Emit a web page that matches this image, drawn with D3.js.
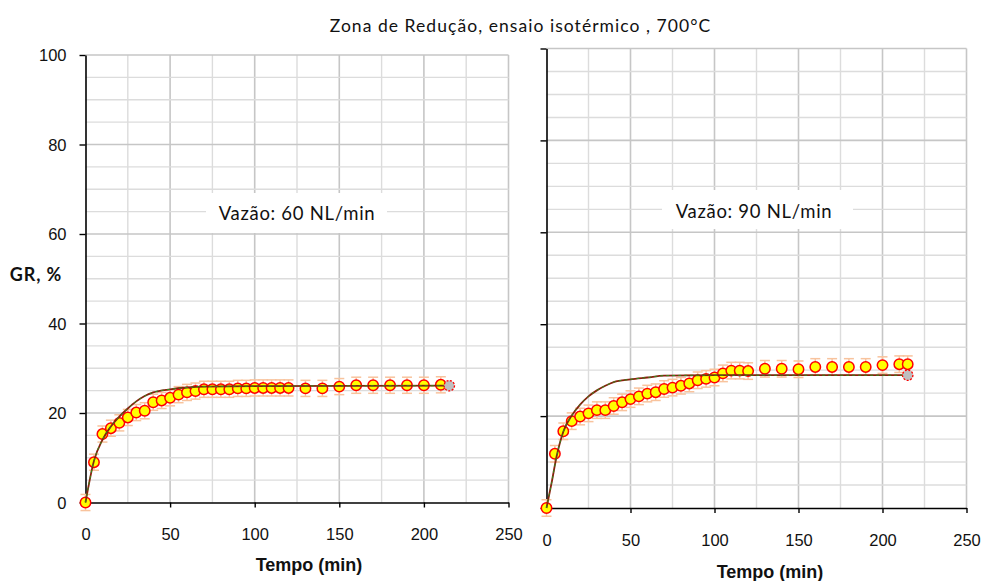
<!DOCTYPE html>
<html>
<head>
<meta charset="utf-8">
<script src="https://cdn.jsdelivr.net/npm/d3@7"></script>
<style>
  html, body { margin: 0; padding: 0; background: #fff; }
  svg { display: block; }
</style>
</head>
<body>
<svg id="chart" width="983" height="581"></svg>
<script>
// Reduction degree (GR, %) vs time, isothermal test at 700 °C
const titleText = "Zona de Redução, ensaio isotérmico , 700°C";
const yTitle = "GR, %";
const xTitle = "Tempo (min)";
const xTicks = [0, 50, 100, 150, 200, 250];
const yTicks = [0, 20, 40, 60, 80, 100];

// 60 NL/min — measured points
const label60 = "Vazão: 60 NL/min";
const time60 = [0, 5, 10, 15, 20, 25, 30, 35, 40, 45, 50, 55, 60, 65, 70, 75, 80, 85, 90, 95, 100, 105, 110, 115, 120,
                130, 140, 150, 160, 170, 180, 190, 200, 210];
const gr60   = [0, 9.0, 15.3, 16.6, 17.8, 19.0, 20.1, 20.5, 22.4, 22.8, 23.4, 24.1, 24.6, 24.9, 25.3, 25.3, 25.3, 25.3, 25.5, 25.5, 25.6, 25.6, 25.6, 25.6, 25.6,
                25.5, 25.5, 25.9, 26.2, 26.2, 26.2, 26.2, 26.2, 26.3];
// 60 NL/min — fitted curve
const fitTime60 = [0, 5, 10, 15, 20, 25, 30, 35, 40, 50, 60, 70, 100, 215];
const fitGr60   = [0, 9.3, 14.0, 17.0, 19.2, 21.0, 22.6, 23.8, 24.6, 25.3, 25.7, 25.9, 26.0, 26.1];
const endTime60 = [215];
const endGr60   = [26.1];

// 90 NL/min — measured points
const label90 = "Vazão: 90 NL/min";
const time90 = [0, 5, 10, 15, 20, 25, 30, 35, 40, 45, 50, 55, 60, 65, 70, 75, 80, 85, 90, 95, 100, 105, 110, 115, 120,
                130, 140, 150, 160, 170, 180, 190, 200, 210, 215];
const gr90   = [0, 11.8, 16.7, 18.9, 19.9, 20.6, 21.3, 21.3, 22.2, 23.0, 23.7, 24.3, 24.9, 25.2, 25.9, 26.2, 26.6, 27.1, 27.8, 28.1, 28.4, 29.3, 29.9, 29.9, 29.8,
                30.3, 30.3, 30.2, 30.7, 30.7, 30.7, 30.7, 31.1, 31.3, 31.3];
// 90 NL/min — fitted curve
const fitTime90 = [0, 3, 6, 10, 15, 20, 25, 30, 35, 40, 50, 60, 70, 100, 215];
const fitGr90   = [0, 5.4, 11.2, 16.6, 20.1, 22.5, 24.3, 25.6, 26.6, 27.4, 28.0, 28.4, 28.8, 28.9, 28.9];
const endTime90 = [215];
const endGr90   = [28.9];

// Standard deviation of the measured points
const errGr = 1.8;

const svg = d3.select("#chart");
const tickFont = "'Liberation Sans', Arial, sans-serif";
const textFont = "Lato, 'Open Sans', sans-serif";

svg.append("text")
  .attr("x", 520.5).attr("y", 32)
  .attr("text-anchor", "middle")
  .style("font-family", textFont).style("font-size", "17.5px").style("letter-spacing", "1.05px")
  .style("fill", "#111")
  .text(titleText);

svg.append("text")
  .attr("x", 36).attr("y", 281)
  .attr("text-anchor", "middle")
  .style("font-family", textFont).style("font-size", "18px").style("font-weight", "bold")
  .style("letter-spacing", "0.9px").style("fill", "#111")
  .text(yTitle);

function panel(cfg) {
  const x = d3.scaleLinear().domain([0, 250]).range(cfg.xr);
  const y = d3.scaleLinear().domain([0, 100]).range(cfg.yr);
  const g = svg.append("g");

  // grid: minor every 25 / 5, major every 50 / 20
  const gx = d3.range(25, 251, 25);
  const gy = d3.range(5, 101, 5);
  g.selectAll("line.gx").data(gx).join("line")
    .attr("x1", d => x(d)).attr("x2", d => x(d))
    .attr("y1", y(0)).attr("y2", y(100))
    .attr("stroke", d => d % 50 === 0 ? "#c6c6c6" : "#dcdcdc")
    .attr("stroke-width", d => d % 50 === 0 ? 1.6 : 1.4);
  g.selectAll("line.gy").data(gy).join("line")
    .attr("x1", x(0)).attr("x2", x(250))
    .attr("y1", d => y(d)).attr("y2", d => y(d))
    .attr("stroke", d => d % 20 === 0 ? "#c6c6c6" : "#dcdcdc")
    .attr("stroke-width", d => d % 20 === 0 ? 1.6 : 1.4);

  // label box
  g.append("rect")
    .attr("x", cfg.box[0]).attr("y", cfg.box[1])
    .attr("width", cfg.box[2]).attr("height", cfg.box[3])
    .attr("fill", "#fff");
  g.append("text")
    .attr("x", cfg.labelPos[0]).attr("y", cfg.labelPos[1])
    .attr("text-anchor", "middle")
    .style("font-family", textFont).style("font-size", "18.5px").style("letter-spacing", "0.7px")
    .style("fill", "#111")
    .text(cfg.label);

  // axes
  const xAxis = d3.axisBottom(x).tickValues(xTicks).tickSize(5).tickSizeOuter(0).tickFormat(d3.format("d"));
  const ax = g.append("g").attr("transform", `translate(0,${y(0)})`).call(xAxis);
  ax.select(".domain").attr("stroke", "#000").attr("stroke-width", 1.6);
  ax.selectAll(".tick line").attr("stroke", "#000").attr("stroke-width", 1.4);
  ax.selectAll(".tick text")
    .attr("y", cfg.xLabelDy).attr("dy", 0)
    .style("font-family", tickFont).style("font-size", "16.5px").style("fill", "#111");

  const yAxis = d3.axisLeft(y).tickValues(yTicks).tickSize(6).tickSizeOuter(0)
    .tickFormat(cfg.yLabels ? d3.format("d") : () => "");
  const ay = g.append("g").attr("transform", `translate(${x(0)},0)`).call(yAxis);
  ay.select(".domain").attr("stroke", "#000").attr("stroke-width", 1.6);
  ay.selectAll(".tick line").attr("stroke", "#000").attr("stroke-width", 1.4);
  ay.selectAll(".tick text")
    .attr("x", -19).attr("dy", "0.36em")
    .style("font-family", tickFont).style("font-size", "16.5px").style("fill", "#111");

  g.append("text")
    .attr("x", cfg.xTitlePos[0]).attr("y", cfg.xTitlePos[1])
    .attr("text-anchor", "middle")
    .style("font-family", tickFont).style("font-size", "18px").style("font-weight", "bold").style("fill", "#111")
    .text(xTitle);

  const pts = cfg.t.map((t, i) => ({ t, v: cfg.v[i] }));

  // error bars
  const eb = g.append("g").attr("stroke", "#f8c39d").attr("stroke-width", 1.5).attr("fill", "none");
  eb.selectAll("line.v").data(pts).join("line")
    .attr("x1", d => x(d.t)).attr("x2", d => x(d.t))
    .attr("y1", d => y(d.v - errGr)).attr("y2", d => y(d.v + errGr));
  eb.selectAll("line.lo").data(pts).join("line")
    .attr("x1", d => x(d.t) - 5).attr("x2", d => x(d.t) + 5)
    .attr("y1", d => y(d.v - errGr)).attr("y2", d => y(d.v - errGr));
  eb.selectAll("line.hi").data(pts).join("line")
    .attr("x1", d => x(d.t) - 5).attr("x2", d => x(d.t) + 5)
    .attr("y1", d => y(d.v + errGr)).attr("y2", d => y(d.v + errGr));

  // measured points
  g.selectAll("circle.m").data(pts).join("circle")
    .attr("cx", d => x(d.t)).attr("cy", d => y(d.v)).attr("r", 5.2)
    .attr("fill", "#ffff00").attr("stroke", "#ff0000").attr("stroke-width", 1.5);

  // fitted curve
  const fit = cfg.ft.map((t, i) => ({ t, v: cfg.fv[i] }));
  const line = d3.line().x(d => x(d.t)).y(d => y(d.v)).curve(d3.curveMonotoneX);
  g.append("path").datum(fit).attr("d", line)
    .attr("fill", "none").attr("stroke", "#8a1e0c").attr("stroke-width", 1.8);
  g.append("path").datum(fit).attr("d", line)
    .attr("fill", "none").attr("stroke", "#2f8f1f").attr("stroke-width", 1).attr("stroke-dasharray", "3,3");

  // end point of the fit
  const ends = cfg.et.map((t, i) => ({ t, v: cfg.ev[i] }));
  g.selectAll("circle.e").data(ends).join("circle")
    .attr("cx", d => x(d.t)).attr("cy", d => y(d.v)).attr("r", 5.2)
    .attr("fill", "#bfbfbf").attr("stroke", "#ff0000").attr("stroke-width", 1.3)
    .attr("stroke-dasharray", "2,1.5");
}

panel({
  xr: [85.5, 508.5], yr: [502.5, 55],
  t: time60, v: gr60, ft: fitTime60, fv: fitGr60, et: endTime60, ev: endGr60,
  label: label60, labelPos: [297, 220], box: [206, 193, 181, 40],
  xLabelDy: 37, yLabels: true, xTitlePos: [309, 570.5]
});

panel({
  xr: [546.5, 966.5], yr: [508, 48.5],
  t: time90, v: gr90, ft: fitTime90, fv: fitGr90, et: endTime90, ev: endGr90,
  label: label90, labelPos: [754, 217.5], box: [662, 190, 191, 39],
  xLabelDy: 38, yLabels: false, xTitlePos: [770, 578]
});
</script>
</body>
</html>
